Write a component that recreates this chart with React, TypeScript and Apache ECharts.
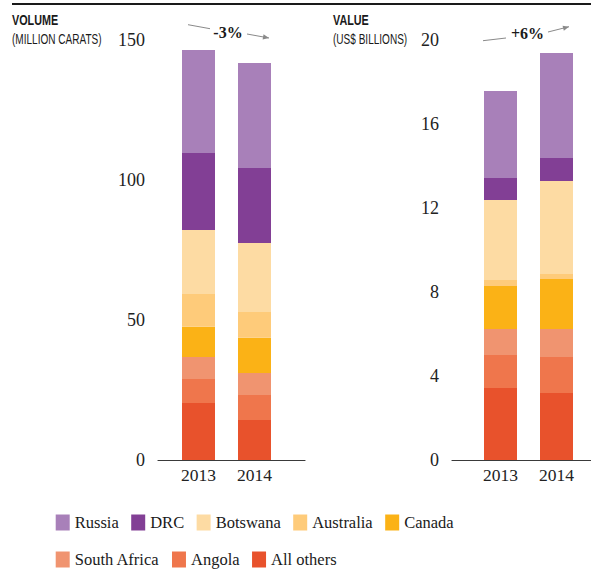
import React, { useEffect, useRef } from "react";
import * as echarts from "echarts";

const years = ["2013", "2014"];
// stack order: bottom to top
const seriesNames = ["All others", "Angola", "South Africa", "Canada", "Australia", "Botswana", "DRC", "Russia"];
const seriesColors = ["#E8522C", "#EF764C", "#F09470", "#FBB216", "#FECB7A", "#FDDBA3", "#823F95", "#A880B9"];

// Volume (million carats), [2013, 2014]
const volOthers = [20.4, 14.3];
const volAngola = [8.5, 8.9];
const volSouthAfrica = [7.9, 7.9];
const volCanada = [10.8, 12.6];
const volAustralia = [11.7, 9.2];
const volBotswana = [22.8, 24.6];
const volDRC = [27.5, 26.8];
const volRussia = [36.8, 37.5];

// Value (US$ billions), [2013, 2014]
const valOthers = [3.43, 3.19];
const valAngola = [1.57, 1.71];
const valSouthAfrica = [1.24, 1.34];
const valCanada = [2.05, 2.38];
const valAustralia = [0.28, 0.24];
const valBotswana = [3.81, 4.43];
const valDRC = [1.05, 1.09];
const valRussia = [4.14, 5.0];

const volumeData = [volOthers, volAngola, volSouthAfrica, volCanada, volAustralia, volBotswana, volDRC, volRussia];
const valueData = [valOthers, valAngola, valSouthAfrica, valCanada, valAustralia, valBotswana, valDRC, valRussia];

const legendRow1 = ["Russia", "DRC", "Botswana", "Australia", "Canada"];
const legendRow2 = ["South Africa", "Angola", "All others"];

const volumeChange = "-3%";
const valueChange = "+6%";

const SERIF = "'Liberation Serif', 'Times New Roman', serif";
const SANS = "'Liberation Sans', Arial, sans-serif";

function arrowHead(x1: number, y1: number, x2: number, y2: number) {
  const a = Math.atan2(y2 - y1, x2 - x1);
  const len = 6;
  const w = 2.6;
  const bx = x2 - len * Math.cos(a);
  const by = y2 - len * Math.sin(a);
  return [
    [x2, y2],
    [bx + w * Math.sin(a), by - w * Math.cos(a)],
    [bx - w * Math.sin(a), by + w * Math.cos(a)],
  ];
}

function arrowParts(seg1: number[], seg2: number[]) {
  const style = { stroke: "#8a8a8a", lineWidth: 1 };
  return [
    { type: "line", shape: { x1: seg1[0], y1: seg1[1], x2: seg1[2], y2: seg1[3] }, style },
    { type: "line", shape: { x1: seg2[0], y1: seg2[1], x2: seg2[2], y2: seg2[3] }, style },
    { type: "polygon", shape: { points: arrowHead(seg2[0], seg2[1], seg2[2], seg2[3]) }, style: { fill: "#8a8a8a" } },
  ];
}

function header(x: number, y: number, text: string, bold: boolean) {
  return {
    type: "text",
    x,
    y,
    scaleX: bold ? 0.72 : 0.67,
    style: {
      text,
      fill: "#1a1a1a",
      font: `${bold ? "bold 15px" : "15px"} ${SANS}`,
      textVerticalAlign: "top",
    },
  };
}

export default function App() {
  const ref = useRef<HTMLDivElement>(null);
  useEffect(() => {
    document.body.style.margin = "0";
    const chart = echarts.init(ref.current!, null, { renderer: "svg" });

    const axisGridY = (max: number, interval: number, gridIndex: number) => ({
      type: "value",
      gridIndex,
      min: 0,
      max,
      interval,
      axisLine: { show: false },
      axisTick: { show: false },
      splitLine: { show: false },
      axisLabel: { color: "#222", fontFamily: SERIF, fontSize: 18, margin: 13 },
    });
    const hiddenY = (max: number, gridIndex: number) => ({
      type: "value",
      gridIndex,
      min: 0,
      max,
      show: false,
    });
    const baselineX = (gridIndex: number) => ({
      type: "value",
      gridIndex,
      min: 0,
      max: 1,
      axisLine: { show: true, lineStyle: { color: "#3a3a3a", width: 1.2 } },
      axisTick: { show: false },
      axisLabel: { show: false },
      splitLine: { show: false },
    });
    const catX = (gridIndex: number) => ({
      type: "category",
      gridIndex,
      data: years,
      axisLine: { show: false },
      axisTick: { show: false },
      axisLabel: { color: "#222", fontFamily: SERIF, fontSize: 17.5, margin: 6 },
    });

    const makeSeries = (data: number[][], axisIndex: number, stack: string) =>
      seriesNames.map((name, i) => ({
        type: "bar",
        name,
        stack,
        xAxisIndex: axisIndex,
        yAxisIndex: axisIndex,
        barWidth: 33,
        data: data[i],
        itemStyle: { color: seriesColors[i] },
      }));

    const legendCommon = {
      orient: "horizontal",
      icon: "rect",
      itemWidth: 14,
      itemHeight: 16,
      itemGap: 14,
      padding: 0,
      selectedMode: false,
      textStyle: { color: "#1a1a1a", fontFamily: SERIF, fontSize: 16.5, padding: [0, 0, 0, 0] },
    };

    chart.setOption({
      animation: false,
      grid: [
        { left: 158, width: 147, top: 40, height: 420 },
        { left: 170.5, width: 112, top: 40, height: 420 },
        { left: 452, width: 139, top: 40, height: 420 },
        { left: 472.5, width: 112, top: 40, height: 420 },
      ],
      xAxis: [baselineX(0), catX(1), baselineX(2), catX(3)],
      yAxis: [axisGridY(150, 50, 0), hiddenY(150, 1), axisGridY(20, 4, 2), hiddenY(20, 3)],
      legend: [
        { ...legendCommon, left: 55.7, top: 514, itemGap: 12.5, data: legendRow1 },
        { ...legendCommon, left: 55.7, top: 551, itemGap: 12.5, data: legendRow2 },
      ],
      series: [...makeSeries(volumeData, 1, "vol"), ...makeSeries(valueData, 3, "val")],
      graphic: [
        { type: "line", shape: { x1: 12, y1: 4, x2: 591, y2: 4 }, style: { stroke: "#1a1a1a", lineWidth: 2 } },
        header(12, 12, "VOLUME", true),
        header(12, 31, "(MILLION CARATS)", false),
        header(333, 12, "VALUE", true),
        header(333, 31, "(US$ BILLIONS)", false),
        {
          type: "text", x: 228, y: 32.5,
          style: { text: volumeChange, fill: "#1a1a1a", font: `bold 16px ${SERIF}`, textAlign: "center", textVerticalAlign: "middle" },
        },
        {
          type: "text", x: 527.5, y: 33,
          style: { text: valueChange, fill: "#1a1a1a", font: `bold 16px ${SERIF}`, textAlign: "center", textVerticalAlign: "middle" },
        },
        ...arrowParts([188, 24.7, 210, 28.7], [247, 34, 269, 38]),
        ...arrowParts([483, 40.7, 506, 38], [548, 32, 569, 26.7]),
      ],
    });
    return () => chart.dispose();
  }, []);
  return <div ref={ref} style={{ position: "absolute", left: 0, top: 0, width: 591, height: 569 }} />;
}
